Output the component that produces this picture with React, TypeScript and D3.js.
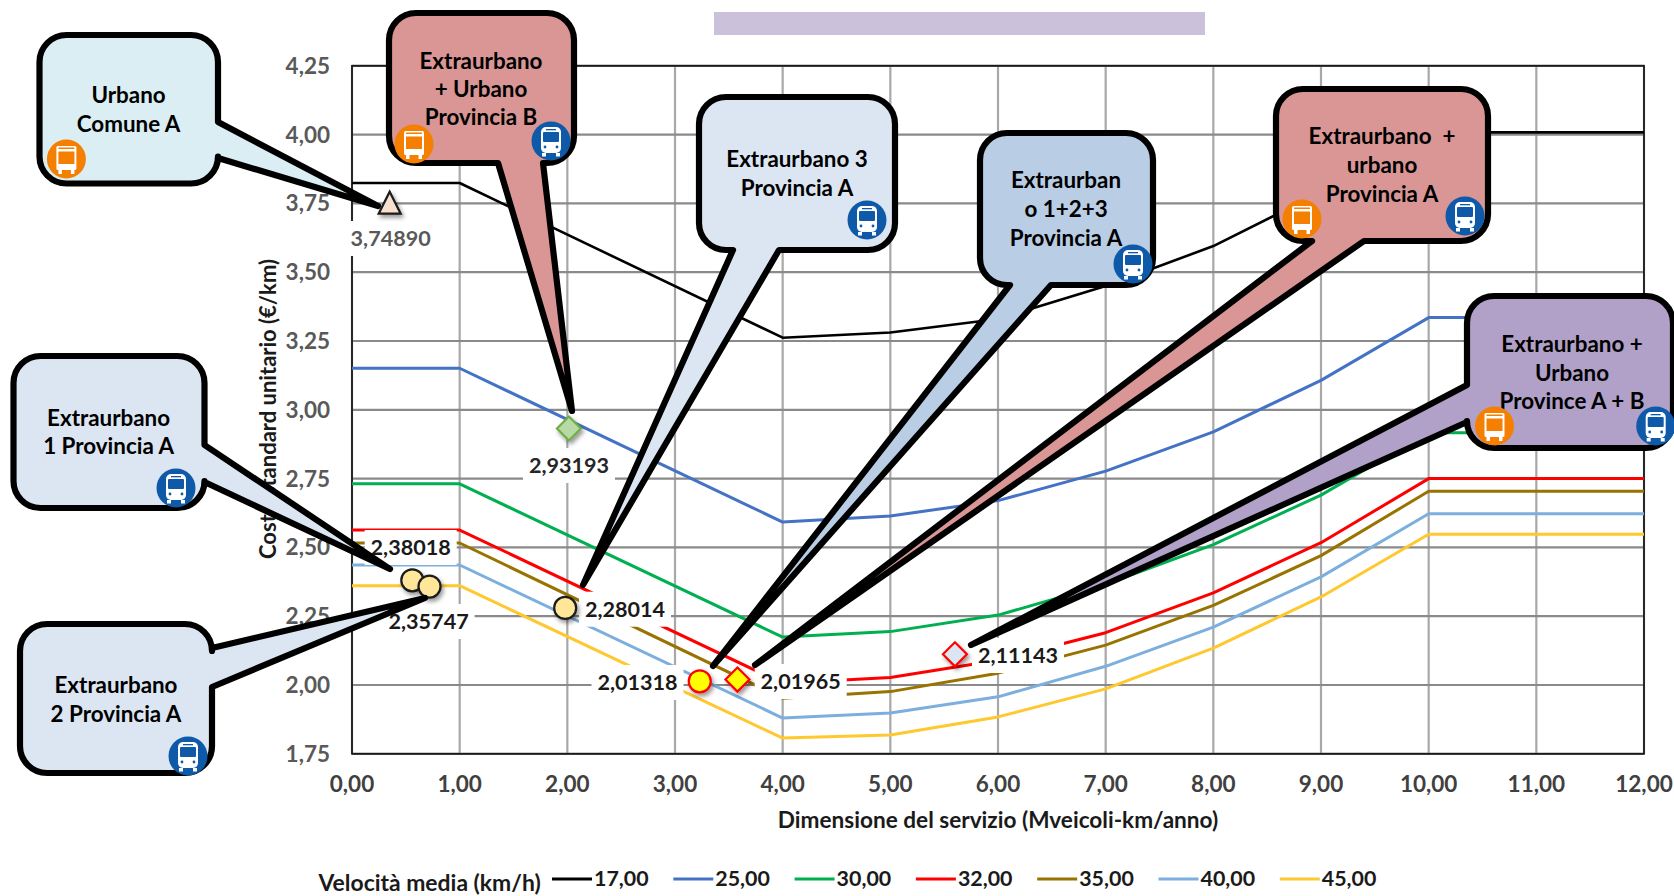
import React from "react";
import * as d3 from "d3";

const sizes = [0, 1, 4, 5, 6, 7, 8, 9, 10, 12];
const speed17 = [3.824, 3.824, 3.262, 3.281, 3.33, 3.45, 3.595, 3.79, 4.008, 4.008];
const speed25 = [3.151, 3.151, 2.592, 2.614, 2.67, 2.777, 2.92, 3.107, 3.335, 3.335];
const speed30 = [2.731, 2.731, 2.174, 2.194, 2.254, 2.366, 2.51, 2.69, 2.917, 2.917];
const speed32 = [2.563, 2.563, 2.006, 2.027, 2.09, 2.19, 2.335, 2.517, 2.75, 2.75];
const speed35 = [2.516, 2.516, 1.952, 1.976, 2.043, 2.145, 2.289, 2.47, 2.704, 2.704];
const speed40 = [2.436, 2.436, 1.88, 1.898, 1.957, 2.068, 2.21, 2.393, 2.622, 2.622];
const speed45 = [2.361, 2.361, 1.807, 1.818, 1.884, 1.986, 2.134, 2.32, 2.548, 2.548];
const speedNames = ["17,00", "25,00", "30,00", "32,00", "35,00", "40,00", "45,00"];
const speedSeries = [speed17, speed25, speed30, speed32, speed35, speed40, speed45];
const speedColors = ["#000000", "#4472c4", "#00b050", "#ff0000", "#997300", "#7cafdd", "#ffc82e"];

const xTicks = [0, 1, 2, 3, 4, 5, 6, 7, 8, 9, 10, 11, 12];
const yTicks = [1.75, 2, 2.25, 2.5, 2.75, 3, 3.25, 3.5, 3.75, 4, 4.25];

const pointX = [0.35, 2.015, 0.56, 0.72, 1.98, 3.23, 3.58, 5.6];
const pointY = [3.7489, 2.93193, 2.38018, 2.35747, 2.28014, 2.01318, 2.01965, 2.11143];
const pointKinds = ["triangle", "diamond", "circle", "circle", "circle", "circle", "diamond", "diamond"];
const pointFills = ["#f8e0cf", "#b7d9a3", "#ffe699", "#ffe699", "#ffe699", "#ffff00", "#ffff00", "#dce6f2"];
const pointStrokes = ["#1a1a1a", "#70ad47", "#1a1a1a", "#1a1a1a", "#1a1a1a", "#ff0000", "#ff0000", "#ff0000"];
const labelCx = [390.7, 569, 410.7, 428.6, 625, 637.5, 800.7, 1018];
const labelBase = [246, 473, 555, 629, 616.7, 690, 689, 663];
const labelColor = ["#595959", "#262626", "#1a1a1a", "#1a1a1a", "#1a1a1a", "#1a1a1a", "#1a1a1a", "#1a1a1a"];

type Tail = { side: "bottom" | "right" | "left"; a: number; b: number; tip: [number, number] };
type Bubble = {
  x0: number; x1: number; y0: number; y1: number; fill: string; tail: Tail;
  lines: string[]; cx: number; baselines: number[]; icons: [string, number, number][];
};

const ORANGE = "#f47f00";
const BLUE = "#0f5aa8";

const bubbles: Bubble[] = [
  { x0: 39.5, x1: 218, y0: 35, y1: 183.5, fill: "#daeef3", tail: { side: "right", a: 122, b: 158, tip: [378, 206] },
    lines: ["Urbano", "Comune A"], cx: 128.6, baselines: [103, 132], icons: [[ORANGE, 66.4, 159]] },
  { x0: 13.5, x1: 204.5, y0: 356, y1: 508, fill: "#dce6f2", tail: { side: "right", a: 445, b: 482, tip: [390, 569] },
    lines: ["Extraurbano", "1 Provincia A"], cx: 108.6, baselines: [426, 454], icons: [[BLUE, 176, 488]] },
  { x0: 20, x1: 212, y0: 624, y1: 773, fill: "#dce6f2", tail: { side: "right", a: 648, b: 687, tip: [425, 598] },
    lines: ["Extraurbano", "2 Provincia A"], cx: 116, baselines: [693, 722], icons: [[BLUE, 188, 756]] },
  { x0: 1467, x1: 1673, y0: 296, y1: 448, fill: "#b1a0c7", tail: { side: "left", a: 385, b: 422, tip: [971, 645] },
    lines: ["Extraurbano +", "Urbano", "Province A + B"], cx: 1572, baselines: [352, 381, 409], icons: [[ORANGE, 1494.5, 426], [BLUE, 1655.7, 426]] },
  { x0: 1276, x1: 1488, y0: 89, y1: 241, fill: "#d99694", tail: { side: "bottom", a: 1312, b: 1364, tip: [755, 665] },
    lines: ["Extraurbano  +", "urbano", "Provincia A"], cx: 1382, baselines: [144, 173, 202], icons: [[ORANGE, 1302, 219], [BLUE, 1465, 216]] },
  { x0: 980, x1: 1153, y0: 133, y1: 285, fill: "#b9cde5", tail: { side: "bottom", a: 1010, b: 1051, tip: [713, 666] },
    lines: ["Extraurban", "o 1+2+3", "Provincia A"], cx: 1066, baselines: [188, 217, 246], icons: [[BLUE, 1133, 264]] },
  { x0: 699, x1: 895, y0: 97, y1: 250, fill: "#dce6f2", tail: { side: "bottom", a: 733, b: 779, tip: [583, 585] },
    lines: ["Extraurbano 3", "Provincia A"], cx: 797, baselines: [167, 196], icons: [[BLUE, 867, 220]] },
  { x0: 389, x1: 574, y0: 13, y1: 163, fill: "#d99694", tail: { side: "bottom", a: 498, b: 543, tip: [572, 411] },
    lines: ["Extraurbano", "+ Urbano", "Provincia B"], cx: 481, baselines: [69, 97, 125], icons: [[ORANGE, 414, 144], [BLUE, 551, 141]] },
];

function bubblePath(b: Bubble, r = 27) {
  const { x0, x1, y0, y1, tail } = b;
  const t = `${tail.tip[0]} ${tail.tip[1]}`;
  let p = `M${x0 + r} ${y0}H${x1 - r}A${r} ${r} 0 0 1 ${x1} ${y0 + r}`;
  if (tail.side === "right") p += `V${tail.a}L${t}L${x1} ${tail.b}`;
  p += `V${y1 - r}A${r} ${r} 0 0 1 ${x1 - r} ${y1}`;
  if (tail.side === "bottom") p += `H${tail.b}L${t}L${tail.a} ${y1}`;
  p += `H${x0 + r}A${r} ${r} 0 0 1 ${x0} ${y1 - r}`;
  if (tail.side === "left") p += `V${tail.b}L${t}L${x0} ${tail.a}`;
  p += `V${y0 + r}A${r} ${r} 0 0 1 ${x0 + r} ${y0}Z`;
  return p;
}

function BusIcon({ color, x, y }: { color: string; x: number; y: number }) {
  const orange = color === ORANGE;
  return (
    <g transform={`translate(${x},${y})`}>
      <circle r={19.5} fill={color} />
      {orange ? (
        <g>
          <rect x={-10} y={-13} width={20} height={24} rx={1.5} fill="#fff" />
          <rect x={-8} y={-7.5} width={16} height={12.5} fill={color} />
          <rect x={-8} y={-11.5} width={16} height={1.5} fill={color} />
          <rect x={-8} y={11} width={3.5} height={4} fill="#fff" />
          <rect x={4.5} y={11} width={3.5} height={4} fill="#fff" />
        </g>
      ) : (
        <g>
          <rect x={-10} y={-14} width={20} height={26} rx={5} fill="#fff" />
          <rect x={-8} y={-9} width={16} height={10} rx={1} fill={color} />
          <rect x={-5} y={-12} width={10} height={1.3} fill={color} />
          <circle cx={-6} cy={6} r={1.4} fill={color} />
          <circle cx={6} cy={6} r={1.4} fill={color} />
          <rect x={-9} y={12} width={4} height={3.5} fill="#fff" />
          <rect x={5} y={12} width={4} height={3.5} fill="#fff" />
        </g>
      )}
    </g>
  );
}

const comma = (v: number, d: number) => v.toFixed(d).replace(".", ",");

export default function App() {
  const x = d3.scaleLinear().domain([0, 12]).range([352, 1644]);
  const y = d3.scaleLinear().domain([1.75, 4.25]).range([753.8, 65.8]);
  const line = d3.line<number>().x((_, i) => x(sizes[i])).y((v) => y(v));
  const font = "Lato, 'Open Sans', sans-serif";
  return (
    <svg width={1674} height={896} style={{ position: "absolute", left: 0, top: 0, display: "block" }} fontFamily={font} fontWeight={700}>
      <defs>
        <filter id="sh" x="-50%" y="-50%" width="200%" height="200%">
          <feDropShadow dx={2} dy={3} stdDeviation={2} floodColor="#000" floodOpacity={0.4} />
        </filter>
      </defs>
      <rect x={0} y={0} width={1674} height={896} fill="#fff" />
      <rect x={714} y={12} width={491} height={23} fill="#cbc1da" />

      {xTicks.map((t) => (
        <line key={t} x1={x(t)} x2={x(t)} y1={y(4.25)} y2={y(1.75)} stroke="#a8a8a8" strokeWidth={2.2} />
      ))}
      {yTicks.map((t) => (
        <line key={t} x1={x(0)} x2={x(12)} y1={y(t)} y2={y(t)} stroke="#8a8a8a" strokeWidth={2.2} />
      ))}
      <rect x={x(0)} y={y(4.25)} width={x(12) - x(0)} height={y(1.75) - y(4.25)} fill="none" stroke="#1a1a1a" strokeWidth={1.8} />

      {yTicks.map((t) => (
        <text key={t} x={330} y={y(t) + 8} textAnchor="end" fontSize={22.5} fill="#595959">{comma(t, 2)}</text>
      ))}
      {xTicks.map((t) => (
        <text key={t} x={x(t)} y={792} textAnchor="middle" fontSize={22.5} fill="#404040">{comma(t, 2)}</text>
      ))}
      <text x={998} y={828} textAnchor="middle" fontSize={22.6} fill="#1a1a1a">Dimensione del servizio (Mveicoli-km/anno)</text>
      <text transform="translate(276,409) rotate(-90)" textAnchor="middle" fontSize={22} fill="#1a1a1a">Costo standard unitario (€/km)</text>

      {speedSeries.map((s, i) => (
        <path key={i} d={line(s) ?? ""} fill="none" stroke={speedColors[i]} strokeWidth={i === 0 ? 2.6 : 3} strokeLinejoin="round" />
      ))}

      {pointY.map((v, i) => (
        <rect key={i} x={labelCx[i] - 46} y={labelBase[i] - 25} width={92} height={35} fill="#fff" />
      ))}
      {pointY.map((v, i) => (
        <text key={i} x={labelCx[i]} y={labelBase[i]} textAnchor="middle" fontSize={21.6} fill={labelColor[i]}>{comma(v, 5)}</text>
      ))}
      {pointY.map((v, i) => {
        const px = x(pointX[i]);
        const py = y(v);
        const common = { fill: pointFills[i], stroke: pointStrokes[i], strokeWidth: 2.2, filter: "url(#sh)" };
        if (pointKinds[i] === "circle") return <circle key={i} cx={px} cy={py} r={11} {...common} />;
        const sym = pointKinds[i] === "diamond"
          ? `M0 -12L12 0L0 12L-12 0Z`
          : `M0 -12L11 10L-11 10Z`;
        return <path key={i} transform={`translate(${px},${py})`} d={sym} {...common} />;
      })}

      {bubbles.map((b, i) => (
        <g key={i}>
          <path d={bubblePath(b)} fill={b.fill} stroke="#000" strokeWidth={6.2} strokeLinejoin="round" />
          {b.lines.map((t, j) => (
            <text key={j} x={b.cx} y={b.baselines[j]} textAnchor="middle" fontSize={22.4} fill="#000" style={{ whiteSpace: "pre" }}>{t}</text>
          ))}
          {b.icons.map(([c, ix, iy], j) => <BusIcon key={j} color={c} x={ix} y={iy} />)}
        </g>
      ))}

      <text x={318.5} y={891} fontSize={22.9} fill="#1a1a1a">Velocità media (km/h)</text>
      {speedNames.map((n, i) => (
        <g key={n} transform={`translate(${552 + i * 121.3},0)`}>
          <line x1={0} x2={40} y1={879} y2={879} stroke={speedColors[i]} strokeWidth={3} />
          <text x={42} y={886} fontSize={21.4} fill="#1a1a1a">{n}</text>
        </g>
      ))}
    </svg>
  );
}
